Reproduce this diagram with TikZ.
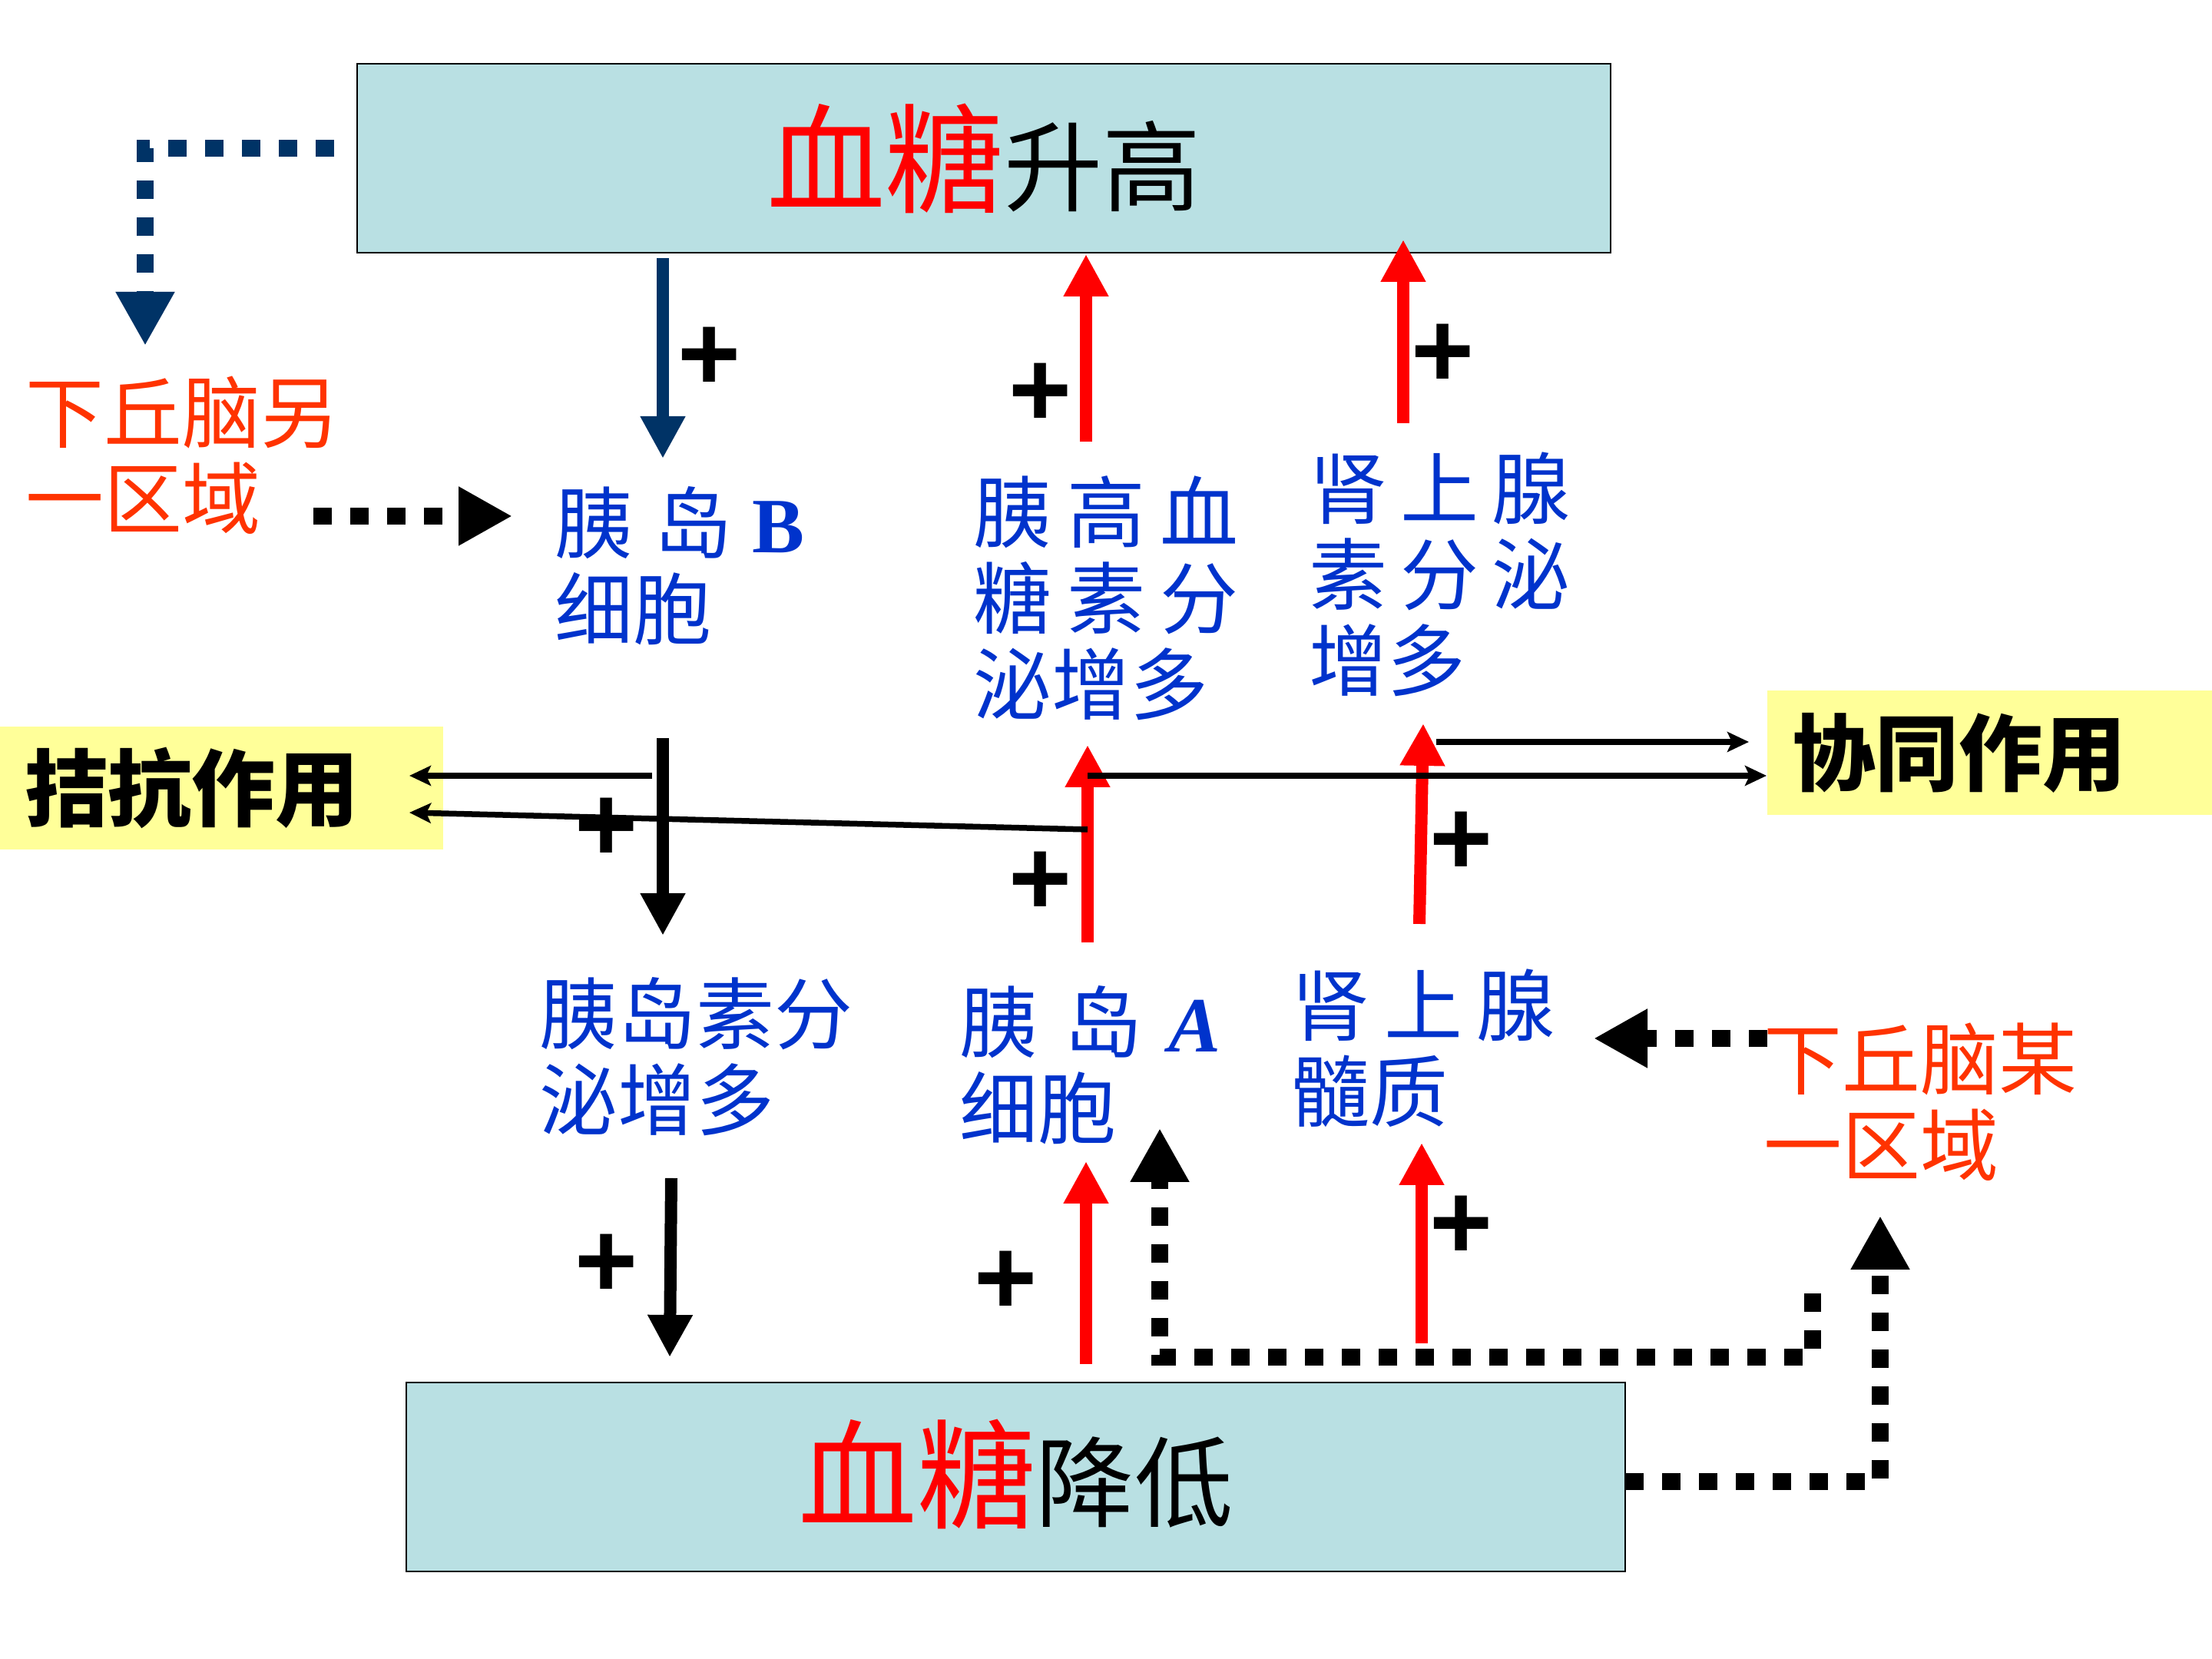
\documentclass[tikz,border=0pt]{standalone}
\usepackage{fontspec}
\setmainfont{Liberation Serif}
\newfontfamily\cjk{Noto Sans CJK SC}
\newfontfamily\plusfont{Liberation Sans}
\usetikzlibrary{arrows.meta}
\definecolor{boxcyan}{HTML}{B9E0E3}
\definecolor{effyellow}{HTML}{FFFF99}
\definecolor{sugarred}{HTML}{FF0000}
\definecolor{cellblue}{HTML}{0033CC}
\definecolor{brainred}{HTML}{FF3300}
\definecolor{deepnavy}{HTML}{003366}
\tikzset{
  sugarbox/.style={draw=black,fill=boxcyan,line width=0.6pt,inner sep=0pt,
                   font=\cjk},
  effbox/.style={fill=effyellow,inner xsep=0.32cm,inner ysep=0pt,align=left,
                 font=\cjk\bfseries\fontsize{31}{31}\selectfont},
  celltxt/.style={text=cellblue,font=\cjk\fontsize{29}{32}\selectfont,
                  align=left,inner sep=0pt,anchor=base west},
  braintxt/.style={celltxt,text=brainred},
  plussign/.style={font=\plusfont\bfseries\fontsize{40}{40}\selectfont,
                   inner sep=0pt},
  solidarr/.style={-{Triangle[length=5.5mm,width=5.5mm]},line width=1.6mm},
  thinarr/.style={-{Stealth[length=2.8mm,width=2.6mm,inset=0.6mm]},
                  line width=0.75mm},
  dotarr/.style={-{Triangle[length=7mm,width=7.2mm]},line width=2.2mm,
                 dash pattern=on 2.4mm off 2.4mm}
}
\begin{document}
\begin{tikzpicture}[x=1cm,y=1cm]
  \path[use as bounding box] (0,0) rectangle (28.8,21.6);
  % blood sugar boxes
  \node[sugarbox,minimum width=16.32cm,minimum height=2.46cm] (hi)
    at (12.81,19.54)
    {\textcolor{sugarred}{\fontsize{44}{44}\selectfont 血糖}\fontsize{36.5}{44}\selectfont 升高};
  \node[sugarbox,minimum width=15.87cm,minimum height=2.46cm] (lo)
    at (13.225,2.37)
    {\raisebox{2mm}{\textcolor{sugarred}{\fontsize{44}{44}\selectfont 血糖}\fontsize{36.5}{44}\selectfont 降低}};
  \node[effbox,text width=5.13cm,minimum height=1.60cm] (antag)
    at (2.885,11.34) {拮抗作用};
  \node[effbox,text width=5.15cm,minimum height=1.62cm] (synerg)
    at (25.905,11.80) {协同作用};
  % labels (anchored at the baseline of the last line)
  \node[braintxt] (hypoA) at (0.33,14.72) {下丘脑另\\一区域};
  \node[celltxt] (bcell) at (7.22,13.28)
    {\makebox[3.25cm][s]{胰 岛 {\rmfamily\bfseries B}}\\细胞};
  \node[celltxt] (gcg) at (12.67,12.30)
    {\makebox[3.45cm][s]{胰 高 血}\\\makebox[3.45cm][s]{糖 素 分}\\泌增多};
  \node[celltxt] (adr) at (17.04,12.61)
    {\makebox[3.40cm][s]{肾 上 腺}\\\makebox[3.40cm][s]{素 分 泌}\\增多};
  \node[celltxt] (ins) at (7.02,6.89) {胰岛素分\\泌增多};
  \node[celltxt] (acell) at (12.49,6.78)
    {\makebox[3.40cm][s]{胰 岛 {\rmfamily\bfseries\itshape A}}\\细胞};
  \node[celltxt] (med) at (16.81,7.00) {\makebox[3.43cm][s]{肾 上 腺}\\髓质};
  \node[braintxt] (hypoB) at (22.96,6.30) {下丘脑某\\一区域};
  % arrow ends
  \coordinate (hiW) at (4.35,19.67);
  \coordinate (hypoAT) at (1.89,17.10);
  \coordinate (hypoAE) at (4.08,14.88);
  \coordinate (bcellW) at (6.67,14.88);
  \coordinate (hiB) at (8.63,18.24);
  \coordinate (bcellT) at (8.63,15.63);
  \coordinate (gcgT) at (14.14,15.85);
  \coordinate (hiG) at (14.14,18.29);
  \coordinate (adrT) at (18.27,16.09);
  \coordinate (hiA) at (18.27,18.48);
  \coordinate (bcellB) at (8.63,11.99);
  \coordinate (insT) at (8.63,9.42);
  \coordinate (acellT) at (14.16,9.33);
  \coordinate (gcgB) at (14.16,11.90);
  \coordinate (medT) at (18.48,9.57);
  \coordinate (adrB) at (18.53,12.18);
  \coordinate (insB) at (8.74,6.26);
  \coordinate (loI) at (8.72,3.93);
  \coordinate (loG) at (14.14,3.84);
  \coordinate (acellB) at (14.14,6.48);
  \coordinate (loM) at (18.51,4.11);
  \coordinate (medB) at (18.51,6.72);
  \coordinate (antagU) at (5.33,11.50);
  \coordinate (antagL) at (5.33,11.02);
  \coordinate (bcross) at (8.49,11.50);
  \coordinate (across) at (14.16,10.80);
  \coordinate (gcross) at (14.16,11.50);
  \coordinate (mcross) at (18.70,11.94);
  \coordinate (synergL) at (23.00,11.50);
  \coordinate (synergU) at (22.77,11.94);
  \coordinate (hypoBW) at (23.01,8.08);
  \coordinate (medE) at (20.75,8.08);
  \coordinate (loopS) at (23.60,4.76);
  \coordinate (loopC) at (15.10,3.93);
  \coordinate (acellE) at (15.10,6.91);
  \coordinate (loE) at (21.16,2.31);
  \coordinate (hypoBB) at (24.48,5.77);
  % solid arrows
  \draw[solidarr,deepnavy] (hiB) -- (bcellT);
  \draw[solidarr,sugarred] (gcgT) -- (hiG);
  \draw[solidarr,sugarred] (adrT) -- (hiA);
  \draw[solidarr,black] (bcellB) -- (insT);
  \draw[solidarr,sugarred] (acellT) -- (gcgB);
  \draw[solidarr,sugarred] (medT) -- (adrB);
  \draw[solidarr,black] (insB) -- (loI);
  \draw[solidarr,sugarred] (loG) -- (acellB);
  \draw[solidarr,sugarred] (loM) -- (medB);
  % effect lines
  \draw[thinarr] (bcross) -- (antagU);
  \draw[thinarr] (across) -- (antagL);
  \draw[thinarr] (gcross) -- (synergL);
  \draw[thinarr] (mcross) -- (synergU);
  % dotted arrows
  \draw[dotarr,deepnavy] (hiW) -| (hypoAT);
  \draw[dotarr] (hypoAE) -- (bcellW);
  \draw[dotarr] (hypoBW) -- (medE);
  \draw[dotarr] (loopS) |- (loopC) -- (acellE);
  \draw[dotarr] (loE) -| (hypoBB);
  % plus signs
  \node[plussign] (pl1) at (9.24,16.93) {+};
  \node[plussign] (pl2) at (13.55,16.46) {+};
  \node[plussign] (pl3) at (18.79,16.97) {+};
  \node[plussign] (pl4) at (7.90,10.80) {+};
  \node[plussign] (pl5) at (13.55,10.10) {+};
  \node[plussign] (pl6) at (19.03,10.62) {+};
  \node[plussign] (pl7) at (7.90,5.12) {+};
  \node[plussign] (pl8) at (13.10,4.90) {+};
  \node[plussign] (pl9) at (19.03,5.62) {+};
\end{tikzpicture}
\end{document}
